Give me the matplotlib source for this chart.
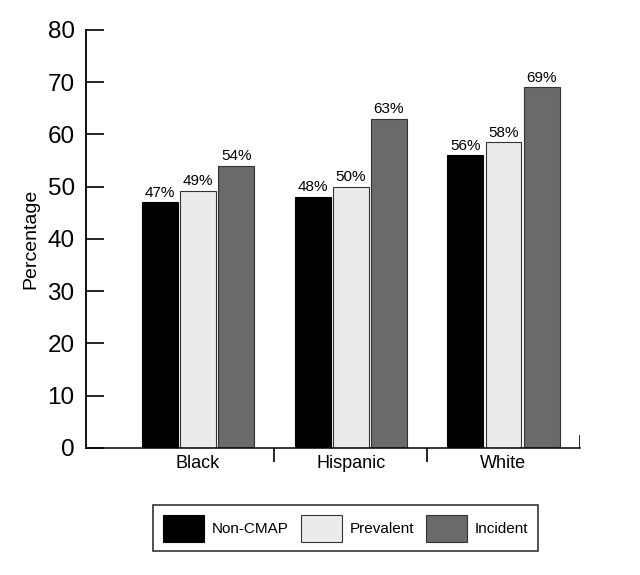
import matplotlib
matplotlib.use("Agg")
import matplotlib.pyplot as plt
import numpy as np

plt.rcParams['font.family'] = ['Liberation Sans', 'DejaVu Sans']

groups = ['Black', 'Hispanic', 'White']
series = ['Non-CMAP', 'Prevalent', 'Incident']
non_cmap = [47, 48, 56]
prevalent = [49.2, 50, 58.5]
incident = [54, 63, 69]
labels = [['47%', '48%', '56%'], ['49%', '50%', '58%'], ['54%', '63%', '69%']]
colors = ['#000000', '#ebebeb', '#6a6a6a']
edges = ['#000000', '#333333', '#333333']

fig = plt.figure(figsize=(6.4, 5.75), dpi=100)
ax = fig.add_axes([0.134, 0.221, 0.772, 0.727])

x = np.arange(len(groups))
w = 0.235
offsets = [-0.25, 0.0, 0.25]
for i, vals in enumerate([non_cmap, prevalent, incident]):
    bars = ax.bar(x + offsets[i], vals, width=w, color=colors[i],
                  edgecolor=edges[i], linewidth=0.8, label=series[i])
    for b, lab in zip(bars, labels[i]):
        ax.text(b.get_x() + b.get_width() / 2, b.get_height() + 0.5, lab,
                ha='center', va='bottom', fontsize=11)

ax.set_xlim(-0.735, 2.5)
ax.set_ylim(0, 80)
ax.set_yticks(range(0, 81, 10))
ax.tick_params(axis='y', direction='in', length=13, width=1.2, labelsize=17.5, pad=8)
ax.set_ylabel('Percentage', fontsize=14, labelpad=6)

ax.set_xticks(x)
ax.set_xticklabels(groups, fontsize=13)
ax.tick_params(axis='x', which='major', length=0, pad=5)
ax.set_xticks([0.5, 1.5], minor=True)
ax.tick_params(axis='x', which='minor', length=10, width=1.2, direction='out')
ax.axvline(2.5, ymin=0, ymax=0.028, color='black', linewidth=1.2)

for s in ['top', 'right']:
    ax.spines[s].set_visible(False)
ax.spines['left'].set_linewidth(1.3)
ax.spines['bottom'].set_linewidth(1.1)

leg = fig.legend(loc='center', bbox_to_anchor=(0.54, 0.081), ncol=3,
                 fontsize=11, handlelength=2.7, handleheight=2.4,
                 columnspacing=0.8, handletextpad=0.5, borderpad=0.6,
                 fancybox=False, frameon=True)
leg.get_frame().set_edgecolor('black')
leg.get_frame().set_linewidth(1.2)

fig.savefig('out.png', dpi=100)
